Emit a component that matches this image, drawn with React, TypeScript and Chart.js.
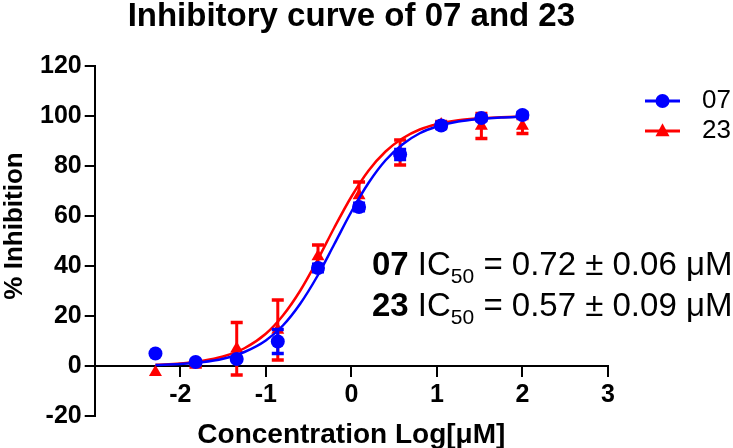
import React, { useEffect, useRef } from "react";
import { Chart, registerables } from "chart.js";

Chart.register(...registerables);

const chartTitle = "Inhibitory curve of 07 and 23";
const xAxisTitle = "Concentration Log[μM]";
const yAxisTitle = "% Inhibition";
const seriesNames = ["07", "23"];
const ic50Values = ["0.72 ± 0.06", "0.57 ± 0.09"];

// measured points (log concentration, % inhibition, SD)
const logConc = [-2.29, -1.82, -1.34, -0.86, -0.39, 0.09, 0.57, 1.05, 1.52, 2.0];
const inhib07 = [5.0, 1.6, 2.8, 9.8, 39.2, 63.6, 84.6, 96.2, 99.2, 100.4];
const sd07 = [0, 0, 0, 4.8, 1.5, 1.5, 2.0, 1.2, 1.0, 1.0];
const inhib23 = [-2.5, 0.5, 6.9, 14.4, 43.8, 68.2, 85.4, 96.6, 96.0, 96.0];
const sd23 = [0, 0.8, 10.5, 12.0, 4.6, 5.4, 5.0, 1.2, 5.0, 3.0];

// fitted curves
const fitLogConc = [-2.29, -2.0, -1.75, -1.5, -1.25, -1.0, -0.8, -0.6, -0.4, -0.2, 0, 0.2, 0.4, 0.6, 0.8, 1.0, 1.25, 1.5, 1.75, 2.0];
const fit07 = [0.4, 0.8, 1.5, 2.9, 5.6, 10.2, 16.2, 24.8, 35.8, 48.7, 61.7, 73.2, 82.3, 88.7, 93.1, 95.8, 97.8, 98.8, 99.4, 99.7];
const fit23 = [0.5, 1.0, 2.0, 3.8, 7.1, 12.9, 20.2, 30.0, 42.1, 55.3, 67.7, 78.1, 85.8, 91.1, 94.6, 96.7, 98.3, 99.1, 99.5, 99.8];

const xTicks = [-3, -2, -1, 0, 1, 2, 3];
const xTickLabels = ["", "-2", "-1", "0", "1", "2", "3"];
const yTicks = [-20, 0, 20, 40, 60, 80, 100, 120];

const BLUE = "#0000ff";
const RED = "#ff0000";
const FAMILY = '"Liberation Sans", Arial, sans-serif';

const errorBarPlugin = {
  id: "errorBars",
  beforeDatasetDraw(chart: any, args: any) {
    const ds = chart.data.datasets[args.index];
    if (!ds.errors) return;
    const { ctx } = chart;
    const xs = chart.scales.x;
    const ys = chart.scales.y;
    ctx.save();
    ctx.strokeStyle = ds.borderColor;
    ds.data.forEach((p: any, i: number) => {
      const e = ds.errors[i];
      if (!e) return;
      const px = xs.getPixelForValue(p.x);
      const top = ys.getPixelForValue(p.y + e);
      const bot = ys.getPixelForValue(p.y - e);
      ctx.lineWidth = 3;
      ctx.beginPath();
      ctx.moveTo(px, top);
      ctx.lineTo(px, bot);
      ctx.stroke();
      ctx.lineWidth = 3.5;
      ctx.beginPath();
      ctx.moveTo(px - 6, top);
      ctx.lineTo(px + 6, top);
      ctx.moveTo(px - 6, bot);
      ctx.lineTo(px + 6, bot);
      ctx.stroke();
    });
    ctx.restore();
  },
};

function drawMarker(ctx: CanvasRenderingContext2D, style: string, x: number, y: number, r: number) {
  ctx.beginPath();
  if (style === "triangle") {
    ctx.moveTo(x, y - r * 1.1);
    ctx.lineTo(x + r, y + r * 0.75);
    ctx.lineTo(x - r, y + r * 0.75);
    ctx.closePath();
  } else {
    ctx.arc(x, y, r, 0, Math.PI * 2);
  }
  ctx.fill();
}

const sideLegendPlugin = {
  id: "sideLegend",
  afterDraw(chart: any) {
    const { ctx, chartArea } = chart;
    const items = chart.data.datasets.filter((d: any) => d.inLegend);
    items.forEach((ds: any, i: number) => {
      const y = chartArea.top + 35 + i * 30;
      const x1 = chartArea.right + 37;
      const x2 = chartArea.right + 72;
      ctx.save();
      ctx.strokeStyle = ds.borderColor;
      ctx.fillStyle = ds.backgroundColor;
      ctx.lineWidth = 3;
      ctx.beginPath();
      ctx.moveTo(x1, y);
      ctx.lineTo(x2, y);
      ctx.stroke();
      drawMarker(ctx, ds.pointStyle, (x1 + x2) / 2, y, 7);
      ctx.fillStyle = "#000";
      ctx.font = `26px ${FAMILY}`;
      ctx.textBaseline = "middle";
      ctx.textAlign = "left";
      ctx.fillText(ds.label, chartArea.right + 94, y);
      ctx.restore();
    });
  },
};

const textPlugin = {
  id: "extraText",
  afterDraw(chart: any) {
    const { ctx } = chart;
    // y axis title
    ctx.save();
    ctx.fillStyle = "#000";
    ctx.font = `bold 26px ${FAMILY}`;
    ctx.textAlign = "center";
    ctx.textBaseline = "middle";
    ctx.translate(15, 226);
    ctx.rotate(-Math.PI / 2);
    ctx.fillText(yAxisTitle, 0, 0);
    ctx.restore();
    // IC50 annotations
    seriesNames.forEach((name, i) => {
      let x = 372;
      const y = 275 + i * 41;
      ctx.save();
      ctx.fillStyle = "#000";
      ctx.textBaseline = "alphabetic";
      ctx.textAlign = "left";
      ctx.font = `bold 33px ${FAMILY}`;
      ctx.fillText(name, x, y);
      x += ctx.measureText(name).width;
      ctx.font = `33px ${FAMILY}`;
      ctx.fillText(" IC", x, y);
      x += ctx.measureText(" IC").width;
      ctx.font = `21px ${FAMILY}`;
      ctx.fillText("50", x, y + 8);
      x += ctx.measureText("50").width;
      ctx.font = `33px ${FAMILY}`;
      ctx.fillText(" = " + ic50Values[i] + " μM", x, y);
      ctx.restore();
    });
  },
};

export default function App() {
  const ref = useRef<HTMLCanvasElement | null>(null);

  useEffect(() => {
    if (!ref.current) return;
    Chart.defaults.font.family = FAMILY;
    const pts = (ys: number[]) => logConc.map((x, i) => ({ x, y: ys[i] }));
    const curve = (ys: number[]) => fitLogConc.map((x, i) => ({ x, y: ys[i] }));

    const chart = new Chart(ref.current, {
      type: "scatter",
      data: {
        datasets: [
          {
            type: "scatter",
            label: seriesNames[0],
            data: pts(inhib07),
            errors: sd07,
            inLegend: true,
            pointStyle: "circle",
            pointRadius: 7,
            backgroundColor: BLUE,
            borderColor: BLUE,
            borderWidth: 0,
            showLine: false,
          } as any,
          {
            type: "line",
            label: "fit07",
            data: curve(fit07),
            borderColor: BLUE,
            borderWidth: 2.5,
            pointRadius: 0,
            fill: false,
            cubicInterpolationMode: "monotone",
          } as any,
          {
            type: "scatter",
            label: seriesNames[1],
            data: pts(inhib23),
            errors: sd23,
            inLegend: true,
            pointStyle: "triangle",
            pointRadius: 7.5,
            backgroundColor: RED,
            borderColor: RED,
            borderWidth: 0,
            showLine: false,
          } as any,
          {
            type: "line",
            label: "fit23",
            data: curve(fit23),
            borderColor: RED,
            borderWidth: 2.5,
            pointRadius: 0,
            fill: false,
            cubicInterpolationMode: "monotone",
          } as any,
        ],
      },
      options: {
        animation: false,
        responsive: false,
        devicePixelRatio: 1,
        layout: { padding: { left: 37, right: 125, bottom: 32 } },
        plugins: {
          legend: { display: false },
          tooltip: { enabled: false },
          title: {
            display: true,
            fullSize: false,
            text: chartTitle,
            color: "#000",
            font: { size: 33, weight: "bold", lineHeight: 1.0 },
            padding: { top: 0, bottom: 33 },
          },
        },
        scales: {
          x: {
            type: "linear",
            position: { y: 0 } as any,
            min: -3,
            max: 3,
            afterBuildTicks: (axis: any) => {
              axis.ticks = xTicks.map((v) => ({ value: v }));
            },
            ticks: {
              callback: (_v: any, i: number) => xTickLabels[i],
              color: "#000",
              font: { size: 25, weight: "bold" },
              padding: 4,
              maxRotation: 0,
              autoSkip: false,
            },
            grid: { drawOnChartArea: false, drawTicks: true, tickLength: 10, color: "#000", lineWidth: 2 },
            border: { display: true, color: "#000", width: 2 },
            title: {
              display: true,
              text: xAxisTitle,
              color: "#000",
              font: { size: 28, weight: "bold" },
              padding: { top: 4, bottom: 0 },
            },
          },
          y: {
            type: "linear",
            min: -20,
            max: 120,
            afterBuildTicks: (axis: any) => {
              axis.ticks = yTicks.map((v) => ({ value: v }));
            },
            ticks: {
              callback: (v: any) => String(v),
              color: "#000",
              font: { size: 25, weight: "bold" },
              padding: 3,
              autoSkip: false,
            },
            grid: { drawOnChartArea: false, drawTicks: true, tickLength: 10, color: "#000", lineWidth: 2 },
            border: { display: true, color: "#000", width: 2 },
            title: { display: false },
          },
        },
      } as any,
      plugins: [errorBarPlugin, sideLegendPlugin, textPlugin],
    });
    return () => chart.destroy();
  }, []);

  return (
    <div style={{ position: "fixed", left: 0, top: 0, width: 733, height: 448, background: "#fff" }}>
      <canvas ref={ref} width={733} height={448} />
    </div>
  );
}
